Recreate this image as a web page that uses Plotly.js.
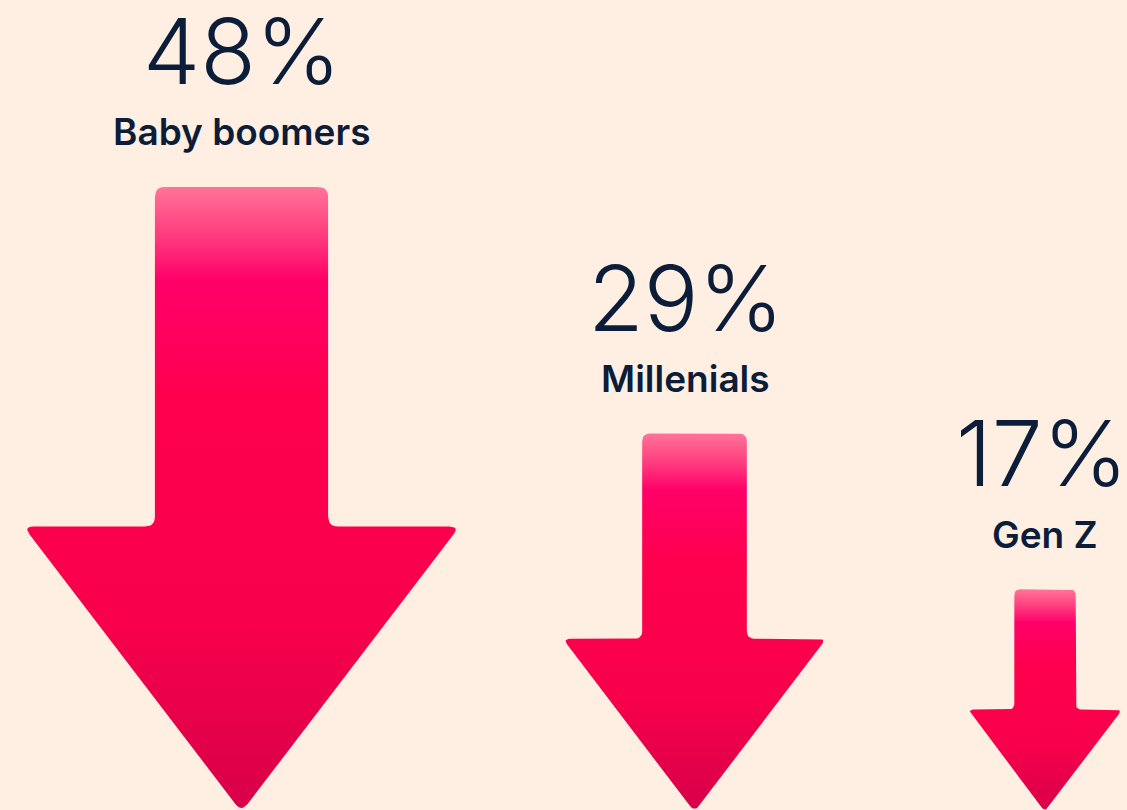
<!DOCTYPE html>
<html>
<head>
<meta charset="utf-8">
<script src="https://cdn.plot.ly/plotly-3.0.1.min.js"></script>
<style>
  html, body { margin: 0; padding: 0; background: #FFEFE3; }
  #chart { width: 1127px; height: 810px; }
</style>
</head>
<body>
<div id="chart"></div>
<script>
// data
const groups = ['Baby boomers', 'Millenials', 'Gen Z'];
const shares = [48, 29, 17];

// layout constants (pixels per percentage point, arrow centres in px)
const PX = 12.98;
const W = 1127, H = 810;
const centresPx = [241.5, 694.5, 1045];
const labelShiftPx = [0, -9, -3];

const NAVY = '#0B1D38';

// 圆角多边形：每个顶点用二次贝塞尔平滑
function roundPoly(pts, r) {
  const xs = [], ys = [];
  const n = pts.length;
  for (let i = 0; i < n; i++) {
    const p = pts[i], a = pts[(i - 1 + n) % n], b = pts[(i + 1) % n];
    const da = Math.hypot(a[0] - p[0], a[1] - p[1]);
    const db = Math.hypot(b[0] - p[0], b[1] - p[1]);
    const ra = Math.min(r, da / 2), rb = Math.min(r, db / 2);
    const p1 = [p[0] + (a[0] - p[0]) / da * ra, p[1] + (a[1] - p[1]) / da * ra];
    const p2 = [p[0] + (b[0] - p[0]) / db * rb, p[1] + (b[1] - p[1]) / db * rb];
    for (let t = 0; t <= 1.0001; t += 1 / 6) {
      const u = 1 - t;
      xs.push(u * u * p1[0] + 2 * u * t * p[0] + t * t * p2[0]);
      ys.push(u * u * p1[1] + 2 * u * t * p[1] + t * t * p2[1]);
    }
  }
  xs.push(xs[0]); ys.push(ys[0]);
  return { x: xs, y: ys };
}

// 箭头形状与数值成比例（高度 = 数值）
function arrow(cx, v) {
  const sw = 0.139 * v, hw = 0.35 * v, hh = 0.455 * v;
  const pts = [
    [cx - sw, v], [cx + sw, v], [cx + sw, hh], [cx + hw, hh],
    [cx, -0.15], [cx - hw, hh], [cx - sw, hh]
  ];
  return roundPoly(pts, 0.3 + 0.01 * v);
}

// 渐变：0 = 底部（箭头尖），1 = 顶部
const arrowScale = [
  [0, '#D80049'], [0.3, '#F8004C'], [0.65, '#FF004E'],
  [0.85, '#FF0068'], [0.92, '#FF3A7E'], [1, '#FF7499']
];

const traces = shares.map((v, i) => {
  const path = arrow(centresPx[i] / PX, v);
  return {
    x: path.x, y: path.y,
    type: 'scatter', mode: 'lines',
    fill: 'toself',
    line: { width: 0, color: 'rgba(0,0,0,0)' },
    fillgradient: { type: 'vertical', colorscale: arrowScale },
    hoverinfo: 'skip',
    showlegend: false
  };
});

const annotations = [];
shares.forEach((v, i) => {
  annotations.push({
    x: centresPx[i] / PX, y: v, xref: 'x', yref: 'y',
    text: v + '%', showarrow: false,
    xshift: labelShiftPx[i], yshift: 136, xanchor: 'center', yanchor: 'middle',
    height: 96, valign: 'middle',
    font: { family: 'Inter, sans-serif', size: 91, weight: 300, color: NAVY }
  });
  annotations.push({
    x: centresPx[i] / PX, y: v, xref: 'x', yref: 'y',
    text: groups[i], showarrow: false,
    xshift: labelShiftPx[i] === -9 ? -9 : 0, yshift: 55, xanchor: 'center', yanchor: 'middle',
    font: { family: 'Inter, sans-serif', size: 37, weight: 600, color: NAVY }
  });
});

const layout = {
  width: W, height: H,
  margin: { l: 0, r: 0, t: 0, b: 0 },
  paper_bgcolor: '#FFEFE3',
  plot_bgcolor: '#FFEFE3',
  xaxis: { range: [0, W / PX], visible: false, fixedrange: true },
  yaxis: { range: [0, H / PX], visible: false, fixedrange: true },
  annotations: annotations
};

Plotly.newPlot('chart', traces, layout, { displayModeBar: false, staticPlot: true });
</script>
</body>
</html>
